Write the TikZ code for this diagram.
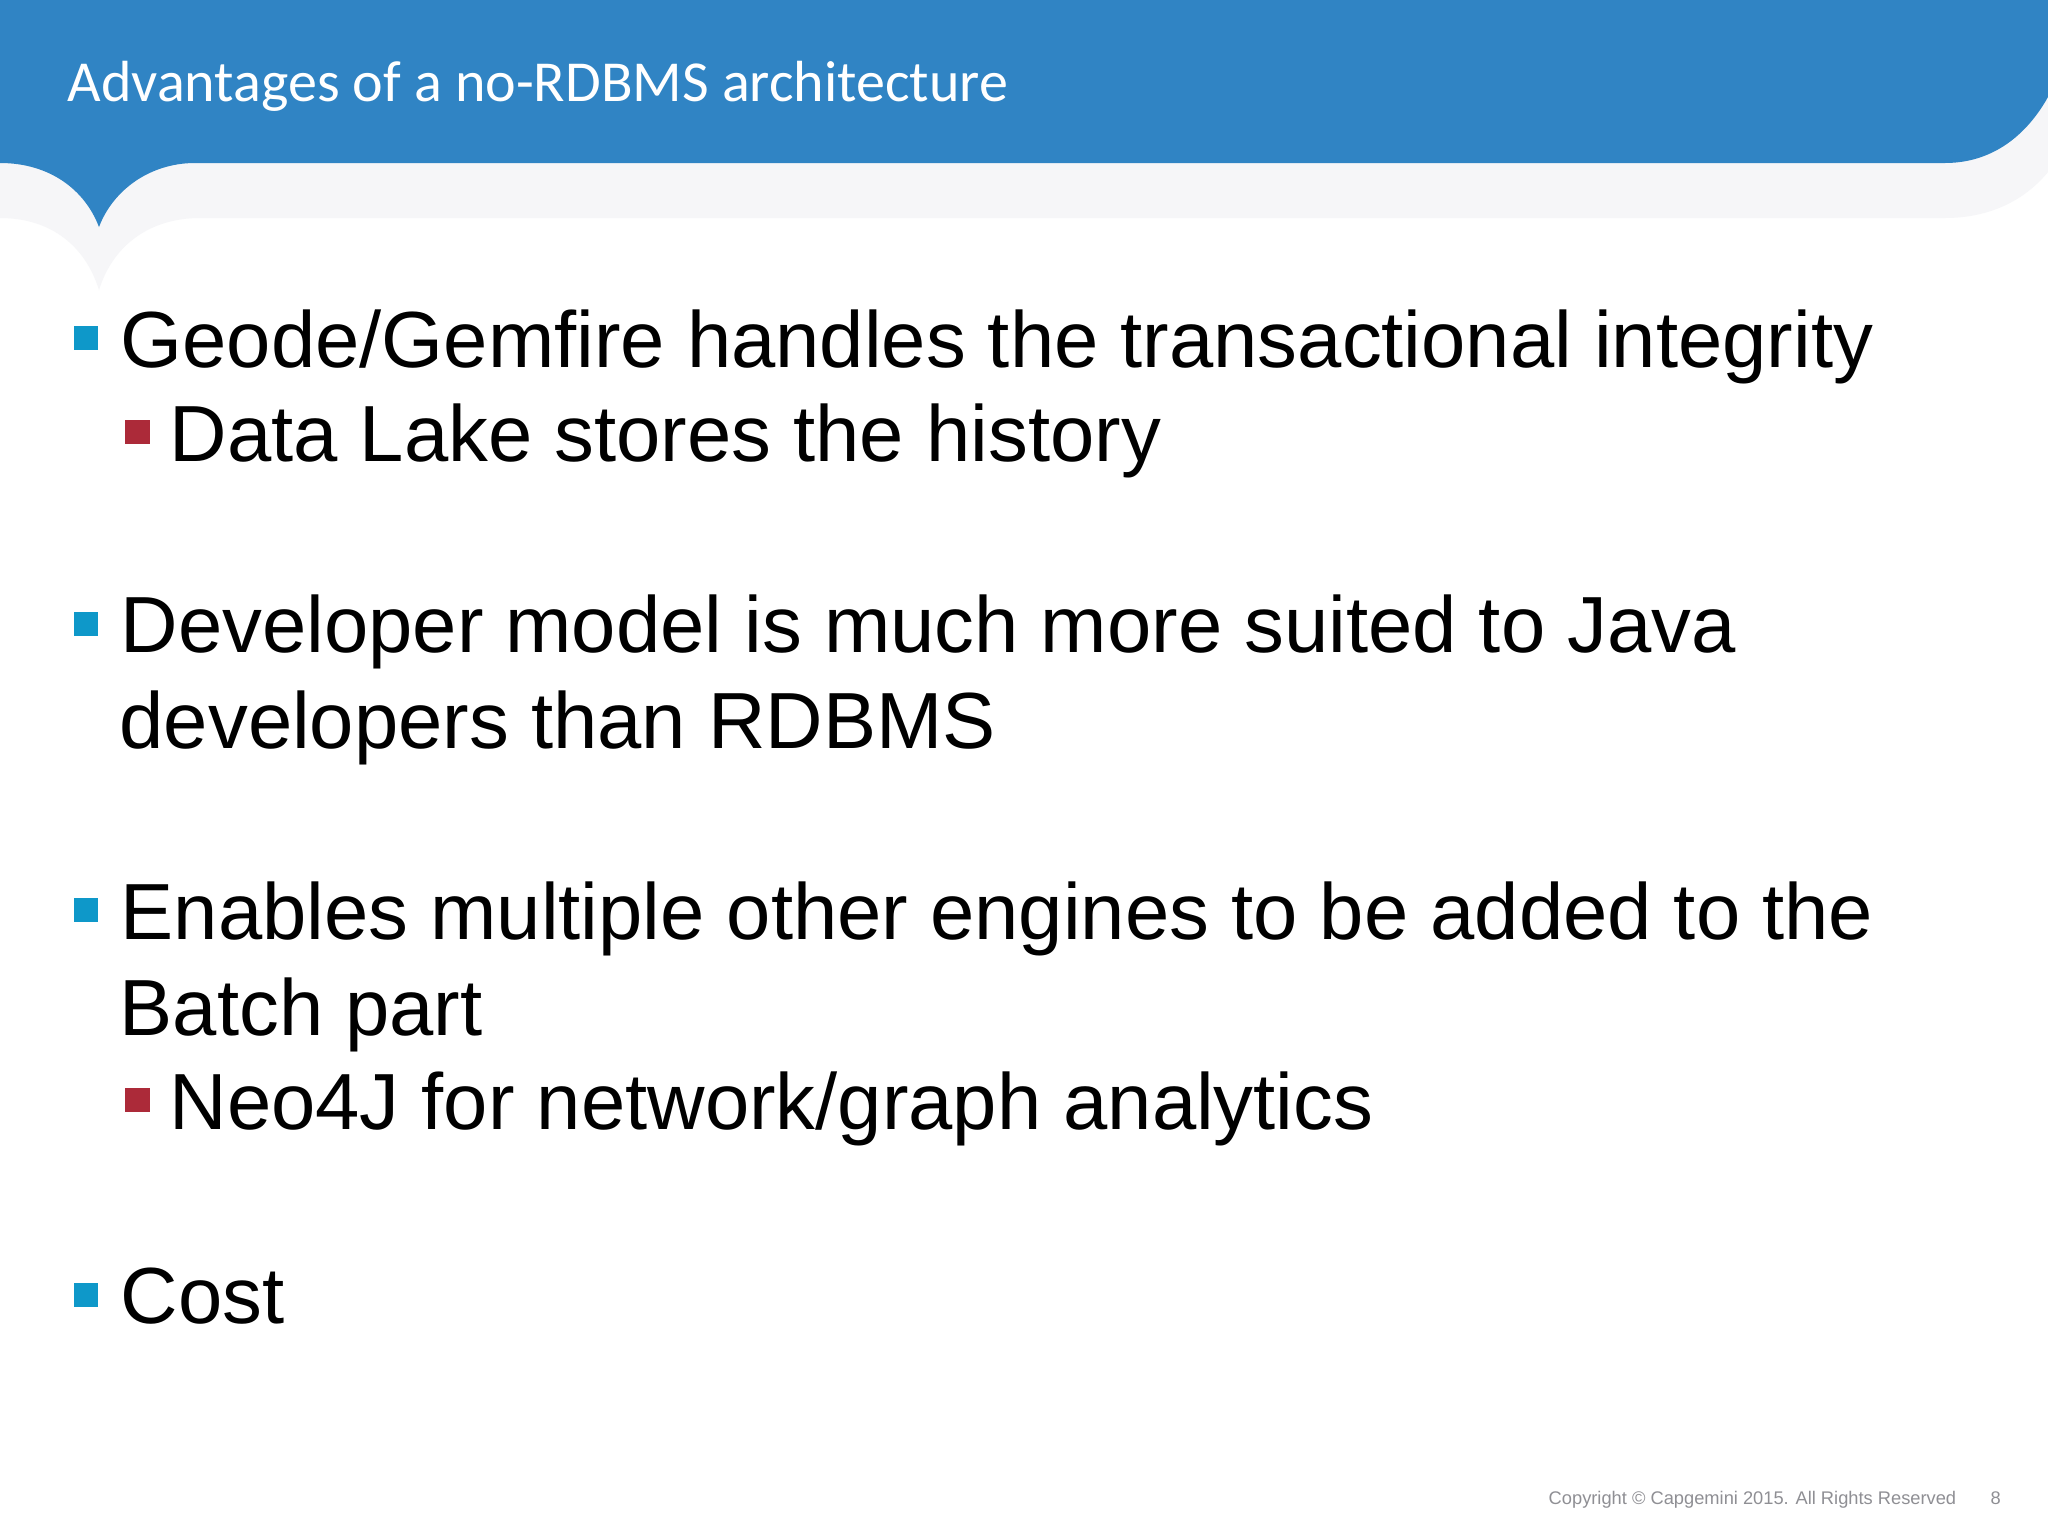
\documentclass[tikz,border=0pt]{standalone}
\usepackage{fontspec}
\setmainfont{Liberation Sans}
\newfontfamily\titlefont{Carlito}
\usetikzlibrary{positioning}
\definecolor{bannerblue}{HTML}{3084C4}
\definecolor{shadowgray}{HTML}{F6F6F8}
\definecolor{bulletblue}{HTML}{0E98C9}
\definecolor{bulletred}{HTML}{AC2A39}
\definecolor{footgray}{HTML}{8F8F94}
\tikzset{
    title/.style={
        anchor=base west,
        inner sep=0pt,
        text=white,
        font=\titlefont\fontsize{16.5}{19}\selectfont,
    },
    item/.style={
        anchor=base west,
        inner sep=0pt,
        text=black,
        font=\fontsize{22.64}{27}\selectfont,
    },
    mainbullet/.style={
        rectangle,
        fill=bulletblue,
        minimum size=24*0.2845pt,
        inner sep=0pt,
    },
    subbullet/.style={
        rectangle,
        fill=bulletred,
        minimum size=24*0.2845pt,
        inner sep=0pt,
    },
    foot/.style={
        anchor=base west,
        inner sep=0pt,
        text=footgray,
        font=\fontsize{5.2}{7}\selectfont,
    },
}
\begin{document}
\begin{tikzpicture}[x=0.01cm,y=-0.01cm]
    \useasboundingbox (0,0) rectangle (2048,1536);
    \fill[white] (0,0) rectangle (2048,1536);

    % shadow under the banner
    \fill[shadowgray] (0,218) .. controls (50,218) and (85,245) .. (99,290)
        .. controls (113,245) and (150,218) .. (200,218) -- (1945,218)
        .. controls (1990,218) and (2025,200) .. (2048,172) -- (2048,100) -- (0,100) -- cycle;

    % banner
    \fill[bannerblue] (0,0) -- (2048,0) -- (2048,97)
        .. controls (2025,138) and (1990,163) .. (1945,163) -- (195,163)
        .. controls (150,163) and (113,190) .. (99,227)
        .. controls (85,190) and (50,163) .. (0,163) -- cycle;
    \node [title] (heading) at (67,101) {Advantages of a no-RDBMS architecture};

    % first block
    \node [mainbullet] (b1) at (86,337.5) {};
    \node [item] (geode) at (120,367) {Geode/Gemfire handles the transactional integrity};
    \node [subbullet] (s1) at (137.5,432) {};
    \node [item] (lake) at (169,461.5) {Data Lake stores the history};

    % second block
    \node [mainbullet] (b2) at (86,624) {};
    \node [item] (dev) at (120,652) {Developer model is much more suited to Java};
    \node [item] (devb) at (119,748.5) {developers than RDBMS};

    % third block
    \node [mainbullet] (b3) at (86,910) {};
    \node [item] (eng) at (120,939) {Enables multiple other engines to be added to the};
    \node [item] (engb) at (119,1035.5) {Batch part};
    \node [subbullet] (s2) at (137.5,1100) {};
    \node [item] (neo) at (169,1129.5) {Neo4J for network/graph analytics};

    % last block
    \node [mainbullet] (b4) at (86,1295) {};
    \node [item] (cost) at (120,1323) {Cost};

    % footer
    \node [foot] (copy) at (1548,1504) {Copyright © Capgemini 2015. All Rights Reserved};
    \node [foot] (page) at (1990,1504) {8};
\end{tikzpicture}
\end{document}
